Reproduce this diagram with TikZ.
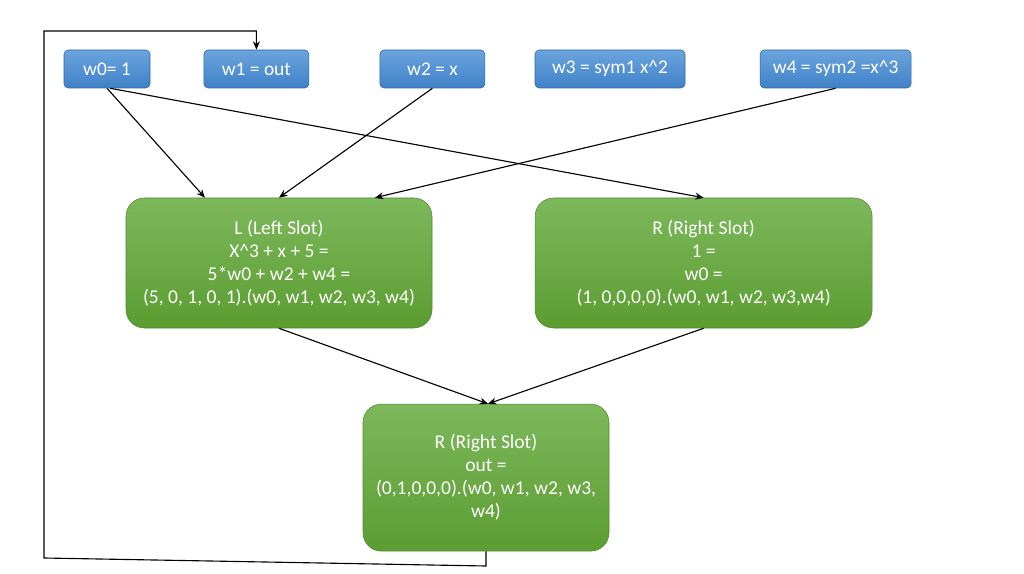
\documentclass[tikz,border=0pt]{standalone}
\usepackage{fontspec}
\setmainfont{Carlito}
\usetikzlibrary{arrows.meta}
\definecolor{wtop}{HTML}{6BA4DD}
\definecolor{wbot}{HTML}{3F81C8}
\definecolor{stop}{HTML}{7DB85C}
\definecolor{sbot}{HTML}{5B9D31}
\begin{document}
\begin{tikzpicture}[
    wire/.style={draw=wbot!80!black, rounded corners=3pt, top color=wtop, bottom color=wbot,
      text=white, font=\fontsize{13.8}{16}\selectfont, minimum height=0.95cm, inner sep=0pt},
    slot/.style={draw=sbot!90!black, rounded corners=13pt, top color=stop, bottom color=sbot,
      text=white, align=center, font=\fontsize{13.9}{16.4}\selectfont, inner sep=0pt},
    conn/.style={-{Stealth[length=6pt,width=5pt]}, line width=0.8pt}
  ]
  \useasboundingbox (0,0) rectangle (25.6,-14.35);
  % wires
  \node[wire, minimum width=2.15cm] (wzero) at (2.675,-1.725) {w0= 1};
  \node[wire, minimum width=2.625cm] (wone) at (6.41,-1.725) {w1 = out};
  \node[wire, minimum width=2.625cm] (wtwo) at (10.81,-1.725) {w2 = x};
  \node[wire, minimum width=3.75cm] (wthree) at (15.25,-1.725) {w3 = sym1 x\^{}2};
  \node[wire, minimum width=3.775cm] (wfour) at (20.89,-1.725) {w4 = sym2 =x\^{}3};
  % slots
  \node[slot, minimum width=7.65cm, minimum height=3.25cm] (lslot) at (6.975,-6.575)
    {L (Left Slot)\\X\^{}3 + x + 5 =\\5*w0 + w2 + w4 =\\(5, 0, 1, 0, 1).(w0, w1, w2, w3, w4)};
  \node[slot, minimum width=8.425cm, minimum height=3.25cm] (rslot) at (17.59,-6.575)
    {R (Right Slot)\\1 =\\w0 =\\(1, 0,0,0,0).(w0, w1, w2, w3,w4)};
  \node[slot, minimum width=6.15cm, minimum height=3.675cm] (oslot) at (12.15,-11.94)
    {R (Right Slot)\\out =\\(0,1,0,0,0).(w0, w1, w2, w3,\\w4)};
  % inputs
  \draw[conn] (wzero.south) -- ([xshift=-1.85cm]lslot.north);
  \draw[conn] ([xshift=0.08cm]wzero.south) -- (rslot.north);
  \draw[conn] (wtwo.south) -- (lslot.north);
  \draw[conn] (wfour.south) -- ([xshift=2.4cm]lslot.north);
  \draw[conn] (lslot.south) -- ([xshift=0.05cm]oslot.north);
  \draw[conn] (rslot.south) -- ([xshift=0.05cm]oslot.north);
  % feedback
  \coordinate (fbdown) at (12.15,-14.15);
  \coordinate (fbleft) at (1.1,-13.95);
  \coordinate (fbup) at (1.1,-0.775);
  \draw[conn] (oslot.south) -- (fbdown) -- (fbleft) -- (fbup) -| (wone.north);
\end{tikzpicture}
\end{document}
